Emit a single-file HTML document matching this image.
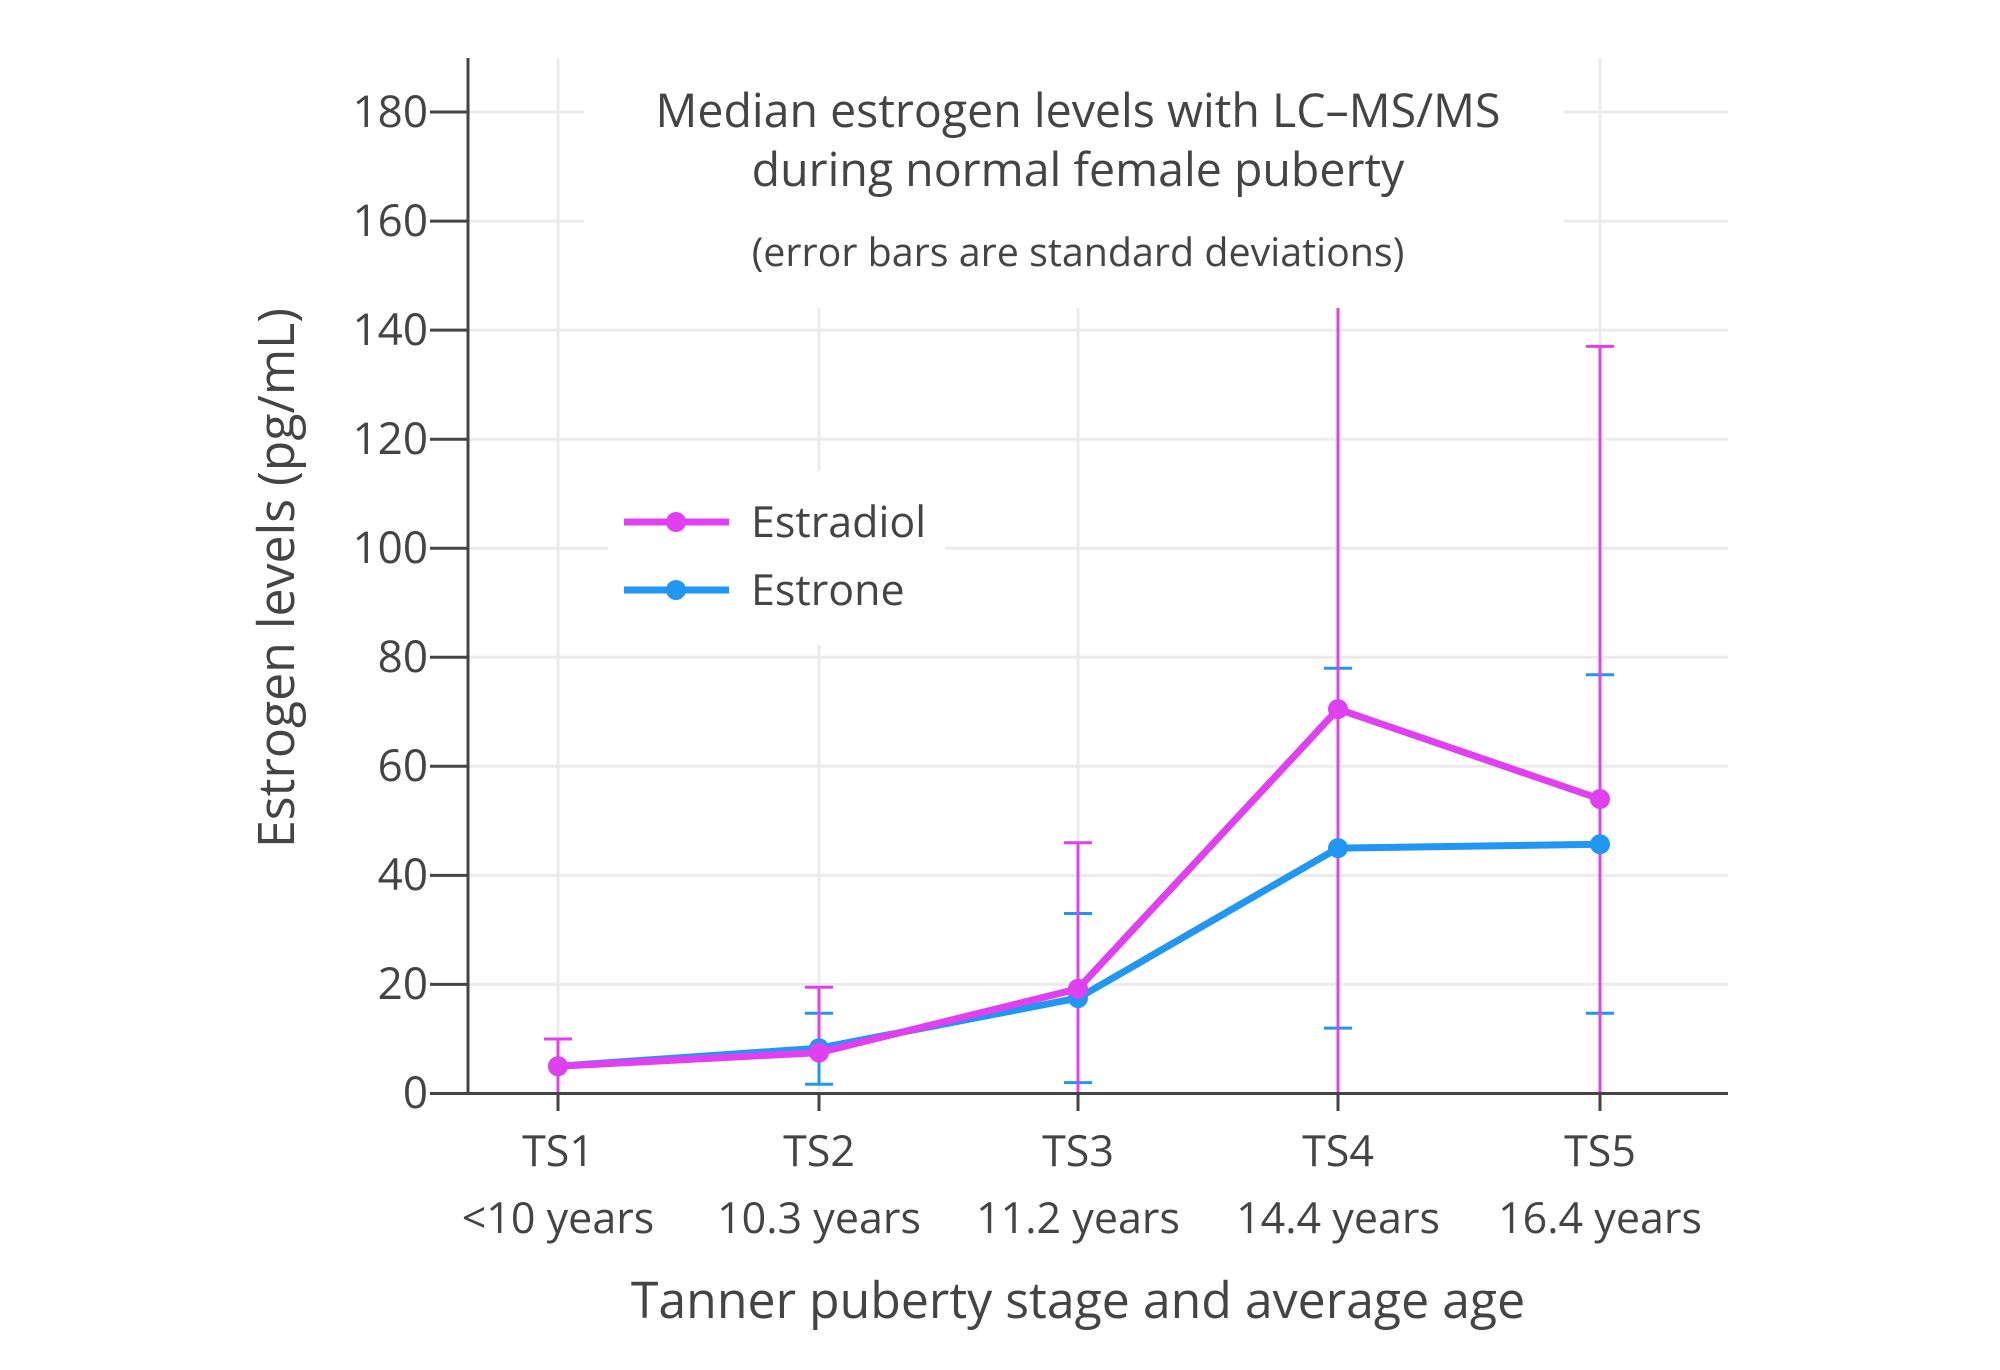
<!DOCTYPE html>
<html><head><style>body{margin:0;background:#fff}svg{display:block}</style></head><body>
<svg width="2000" height="1370" xmlns="http://www.w3.org/2000/svg" font-family="'Open Sans','Liberation Sans',sans-serif" fill="#444">
<g stroke="#ebebeb" stroke-width="3">
<line x1="468" x2="1728" y1="112" y2="112"/><line x1="468" x2="1728" y1="221.1" y2="221.1"/><line x1="468" x2="1728" y1="330.1" y2="330.1"/><line x1="468" x2="1728" y1="439.2" y2="439.2"/><line x1="468" x2="1728" y1="548.2" y2="548.2"/><line x1="468" x2="1728" y1="657.3" y2="657.3"/><line x1="468" x2="1728" y1="766.3" y2="766.3"/><line x1="468" x2="1728" y1="875.4" y2="875.4"/><line x1="468" x2="1728" y1="984.4" y2="984.4"/>
<line x1="558" x2="558" y1="58" y2="1093.5"/><line x1="819" x2="819" y1="58" y2="1093.5"/><line x1="1078" x2="1078" y1="58" y2="1093.5"/><line x1="1338" x2="1338" y1="58" y2="1093.5"/><line x1="1600" x2="1600" y1="58" y2="1093.5"/>
</g>
<g stroke="#2196f3" stroke-width="3">
<line x1="819" x2="819" y1="1084.2" y2="1013.3"/><line x1="805" x2="833" y1="1084.2" y2="1084.2"/><line x1="805" x2="833" y1="1013.3" y2="1013.3"/>
<line x1="1078" x2="1078" y1="1082.6" y2="913.5"/><line x1="1064" x2="1092" y1="1082.6" y2="1082.6"/><line x1="1064" x2="1092" y1="913.5" y2="913.5"/>
<line x1="1324" x2="1352" y1="1028.1" y2="1028.1"/><line x1="1324" x2="1352" y1="668.2" y2="668.2"/>
<line x1="1586" x2="1614" y1="1013.3" y2="1013.3"/><line x1="1586" x2="1614" y1="674.7" y2="674.7"/>
</g>
<g stroke="#e040f0" stroke-width="3">
<line x1="558" x2="558" y1="1093.5" y2="1039"/><line x1="544" x2="572" y1="1039" y2="1039"/><line x1="544" x2="572" y1="1093.5" y2="1093.5"/>
<line x1="819" x2="819" y1="1060" y2="987.2"/><line x1="805" x2="833" y1="987.2" y2="987.2"/>
<line x1="1078" x2="1078" y1="1093.5" y2="842.7"/><line x1="1064" x2="1092" y1="842.7" y2="842.7"/>
<line x1="1338" x2="1338" y1="1093.5" y2="300"/>
<line x1="1600" x2="1600" y1="1093.5" y2="346.4"/><line x1="1586" x2="1614" y1="346.4" y2="346.4"/>
</g>
<polyline fill="none" stroke="#2196f3" stroke-width="7" points="558,1066.2 819,1048.2 1078,998.1 1338,848.1 1600,844.3"/>
<g fill="#2196f3"><circle cx="558" cy="1066.2" r="10"/><circle cx="819" cy="1048.2" r="10"/><circle cx="1078" cy="998.1" r="10"/><circle cx="1338" cy="848.1" r="10"/><circle cx="1600" cy="844.3" r="10"/></g>
<polyline fill="none" stroke="#e040f0" stroke-width="7" points="558,1066.2 819,1052.6 1078,988.8 1338,709.1 1600,799"/>
<g fill="#e040f0"><circle cx="558" cy="1066.2" r="10"/><circle cx="819" cy="1052.6" r="10"/><circle cx="1078" cy="988.8" r="10"/><circle cx="1338" cy="709.1" r="10"/><circle cx="1600" cy="799" r="10"/></g>
<rect x="584" y="58" width="980" height="250" fill="#fff"/>
<rect x="608" y="471" width="337" height="174" fill="#fff"/>
<g stroke="#444" stroke-width="3">
<line x1="468" x2="468" y1="58" y2="1093.5"/><line x1="430" x2="1728" y1="1093.5" y2="1093.5"/>
<line x1="430" x2="468" y1="112" y2="112"/><line x1="430" x2="468" y1="221.1" y2="221.1"/><line x1="430" x2="468" y1="330.1" y2="330.1"/><line x1="430" x2="468" y1="439.2" y2="439.2"/><line x1="430" x2="468" y1="548.2" y2="548.2"/><line x1="430" x2="468" y1="657.3" y2="657.3"/><line x1="430" x2="468" y1="766.3" y2="766.3"/><line x1="430" x2="468" y1="875.4" y2="875.4"/><line x1="430" x2="468" y1="984.4" y2="984.4"/>
<line x1="558" x2="558" y1="1093.5" y2="1111"/><line x1="819" x2="819" y1="1093.5" y2="1111"/><line x1="1078" x2="1078" y1="1093.5" y2="1111"/><line x1="1338" x2="1338" y1="1093.5" y2="1111"/><line x1="1600" x2="1600" y1="1093.5" y2="1111"/>
</g>
<g font-size="44" text-anchor="end">
<text x="428" y="127">180</text><text x="428" y="236">160</text><text x="428" y="345">140</text><text x="428" y="454">120</text><text x="428" y="563">100</text><text x="428" y="672">80</text><text x="428" y="781">60</text><text x="428" y="890">40</text><text x="428" y="999">20</text><text x="428" y="1108">0</text>
</g>
<g font-size="43" text-anchor="middle">
<text x="558" y="1166">TS1</text><text x="819" y="1166">TS2</text><text x="1078" y="1166">TS3</text><text x="1338" y="1166">TS4</text><text x="1600" y="1166">TS5</text>
<text x="558" y="1233">&lt;10 years</text><text x="819" y="1233">10.3 years</text><text x="1078" y="1233">11.2 years</text><text x="1338" y="1233">14.4 years</text><text x="1600" y="1233">16.4 years</text>
<text x="1078" y="1318" font-size="50">Tanner puberty stage and average age</text>
<text x="1078" y="127" font-size="46.5">Median estrogen levels with LC–MS/MS</text>
<text x="1078" y="186" font-size="46.5">during normal female puberty</text>
<text x="1078" y="266" font-size="39.4">(error bars are standard deviations)</text>
<text transform="translate(294,578) rotate(-90)" font-size="50">Estrogen levels (pg/mL)</text>
</g>
<line x1="624" x2="729" y1="522" y2="522" stroke="#e040f0" stroke-width="7"/><circle cx="676" cy="522" r="10" fill="#e040f0"/>
<line x1="624" x2="729" y1="590" y2="590" stroke="#2196f3" stroke-width="7"/><circle cx="676" cy="590" r="10" fill="#2196f3"/>
<text x="751" y="537" font-size="43">Estradiol</text>
<text x="751" y="605" font-size="43">Estrone</text>
</svg>
</body></html>
